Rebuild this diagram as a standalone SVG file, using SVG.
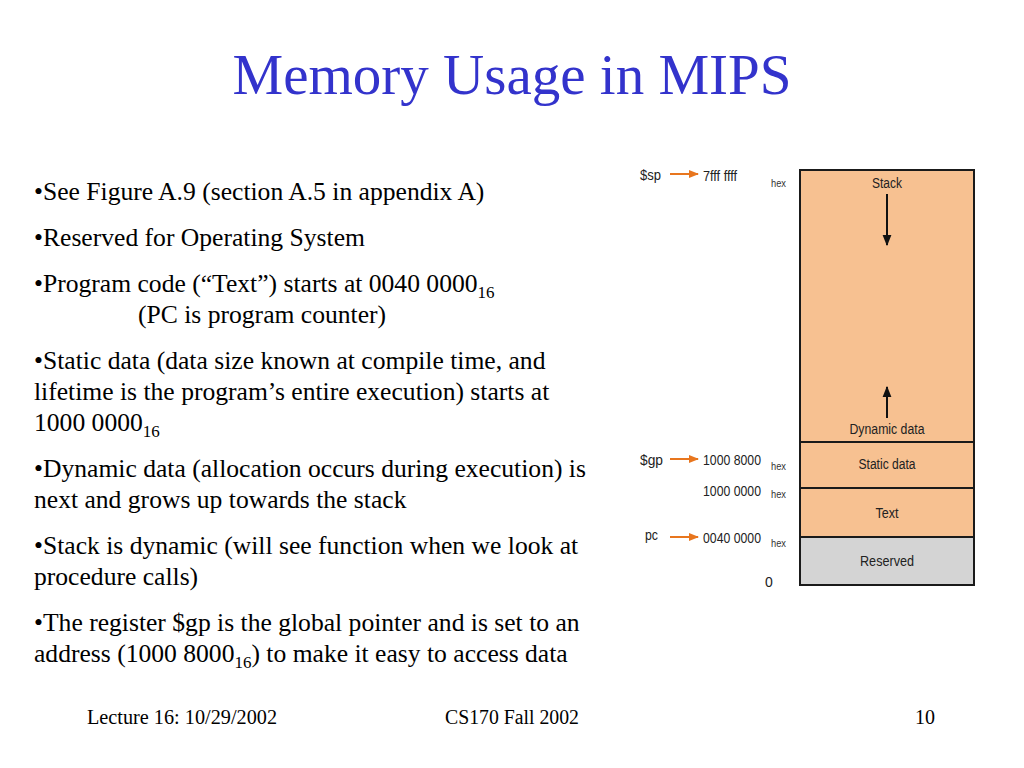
<svg xmlns="http://www.w3.org/2000/svg" width="1024" height="768" viewBox="0 0 1024 768">
<defs>
<marker id="ao" viewBox="0 0 10 10" refX="9" refY="5" markerWidth="10" markerHeight="10" markerUnits="userSpaceOnUse" orient="auto"><path d="M0,1 L10,5 L0,9 Z" fill="#E8761E"/></marker>
<marker id="ak" viewBox="0 0 10 10" refX="9" refY="5" markerWidth="11" markerHeight="11" markerUnits="userSpaceOnUse" orient="auto"><path d="M0,1 L10,5 L0,9 Z" fill="#111"/></marker>
</defs>
<style>
.title{font-family:"Liberation Serif","Times New Roman",serif;font-size:57px;fill:#3333CC}
.bt{font-family:"Liberation Serif","Times New Roman",serif;font-size:25.6px;fill:#000}
.sub{font-size:17px}
.foot{font-family:"Liberation Serif","Times New Roman",serif;font-size:20px;fill:#000}
.lbl{font-family:"Liberation Sans",Arial,sans-serif;font-size:14px;fill:#222}
.hex{font-family:"Liberation Sans",Arial,sans-serif;font-size:10px;fill:#333}
.seg{stroke:#1a1a1a;stroke-width:2}
.peach{fill:#F7C191}
.grey{fill:#D4D4D4}
.oarr{stroke:#E8761E;stroke-width:2;fill:none}
.karr{stroke:#111;stroke-width:2;fill:none}
</style>
<rect width="1024" height="768" fill="#fff"/>
<text class="title" x="512" y="94" text-anchor="middle">Memory Usage in MIPS</text>
<g id="bullets" font-family="Liberation Serif, Times New Roman, serif">
<text class="bt" x="34" y="200">•See Figure A.9 (section A.5 in appendix A)</text>
<text class="bt" x="34" y="246">•Reserved for Operating System</text>
<text class="bt" x="34" y="292">•Program code (“Text”) starts at 0040 0000<tspan class="sub" dy="6">16</tspan></text>
<text class="bt" x="138" y="323">(PC is program counter)</text>
<text class="bt" x="34" y="369">•Static data (data size known at compile time, and</text>
<text class="bt" x="34" y="400">lifetime is the program’s entire execution) starts at</text>
<text class="bt" x="34" y="431">1000 0000<tspan class="sub" dy="6">16</tspan></text>
<text class="bt" x="34" y="477">•Dynamic data (allocation occurs during execution) is</text>
<text class="bt" x="34" y="508">next and grows up towards the stack</text>
<text class="bt" x="34" y="554">•Stack is dynamic (will see function when we look at</text>
<text class="bt" x="34" y="585">procedure calls)</text>
<text class="bt" x="34" y="631">•The register $gp is the global pointer and is set to an</text>
<text class="bt" x="34" y="662">address (1000 8000<tspan class="sub" dy="6">16</tspan><tspan dy="-6">) to make it easy to access data</tspan></text>
</g>
<g id="memory-map">
<g id="stack-segment"><rect class="seg peach" x="800" y="170" width="174" height="272"/>
<text class="lbl" x="887" y="188" text-anchor="middle" textLength="30" lengthAdjust="spacingAndGlyphs">Stack</text>
<text class="lbl" x="887" y="434" text-anchor="middle" textLength="75" lengthAdjust="spacingAndGlyphs">Dynamic data</text></g>
<g id="static-segment"><rect class="seg peach" x="800" y="442" width="174" height="46"/>
<text class="lbl" x="887" y="469" text-anchor="middle" textLength="57" lengthAdjust="spacingAndGlyphs">Static data</text></g>
<g id="text-segment"><rect class="seg peach" x="800" y="488" width="174" height="49"/>
<text class="lbl" x="887" y="518" text-anchor="middle" textLength="23" lengthAdjust="spacingAndGlyphs">Text</text></g>
<g id="reserved-segment"><rect class="seg grey" x="800" y="537" width="174" height="48"/>
<text class="lbl" x="887" y="566" text-anchor="middle" textLength="54" lengthAdjust="spacingAndGlyphs">Reserved</text></g>
</g>
<g id="addresses">
<text class="lbl" x="640" y="180" textLength="21" lengthAdjust="spacingAndGlyphs">$sp</text>
<text class="lbl" x="703" y="181" textLength="34" lengthAdjust="spacingAndGlyphs">7fff ffff</text>
<text class="hex" x="771" y="187" textLength="15" lengthAdjust="spacingAndGlyphs">hex</text>
<text class="lbl" x="640" y="465" textLength="23" lengthAdjust="spacingAndGlyphs">$gp</text>
<text class="lbl" x="703" y="465" textLength="58" lengthAdjust="spacingAndGlyphs">1000 8000</text>
<text class="hex" x="771" y="470" textLength="15" lengthAdjust="spacingAndGlyphs">hex</text>
<text class="lbl" x="703" y="496" textLength="58" lengthAdjust="spacingAndGlyphs">1000 0000</text>
<text class="hex" x="771" y="498" textLength="15" lengthAdjust="spacingAndGlyphs">hex</text>
<text class="lbl" x="645" y="540" textLength="13" lengthAdjust="spacingAndGlyphs">pc</text>
<text class="lbl" x="703" y="543" textLength="58" lengthAdjust="spacingAndGlyphs">0040 0000</text>
<text class="hex" x="771" y="547" textLength="15" lengthAdjust="spacingAndGlyphs">hex</text>
<text class="lbl" x="765" y="587">0</text>
</g>
<g id="connectors">
<line class="oarr" x1="670" y1="174" x2="698" y2="174" marker-end="url(#ao)"/>
<line class="oarr" x1="670" y1="459" x2="698" y2="459" marker-end="url(#ao)"/>
<line class="oarr" x1="670" y1="537" x2="698" y2="537" marker-end="url(#ao)"/>
<line class="karr" x1="887" y1="194" x2="887" y2="245" marker-end="url(#ak)"/>
<line class="karr" x1="887" y1="418" x2="887" y2="387" marker-end="url(#ak)"/>
</g>
<g id="footer">
<text class="foot" x="87" y="724" textLength="190" lengthAdjust="spacingAndGlyphs">Lecture 16: 10/29/2002</text>
<text class="foot" x="512" y="724" text-anchor="middle" textLength="134" lengthAdjust="spacingAndGlyphs">CS170 Fall 2002</text>
<text class="foot" x="935" y="724" text-anchor="end">10</text>
</g>
</svg>
